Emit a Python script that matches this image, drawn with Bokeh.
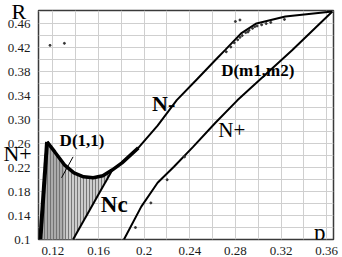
from bokeh.plotting import figure
from bokeh.models import Range1d, FixedTicker, Label
from bokeh.embed import file_html
from bokeh.resources import INLINE

# ---- data ----
x_ticks = [0.12, 0.16, 0.20, 0.24, 0.28, 0.32, 0.36]
x_tick_labels = ["0.12", "0.16", "0.2", "0.24", "0.28", "0.32", "0.36"]
y_ticks = [0.10, 0.14, 0.18, 0.22, 0.26, 0.30, 0.34, 0.38, 0.42, 0.46]
y_tick_labels = ["0.1", "0.14", "0.18", "0.22", "0.26", "0.30", "0.34", "0.38", "0.42", "0.46"]
grid_x = [0.10, 0.12, 0.14, 0.16, 0.18, 0.20, 0.22, 0.24, 0.26, 0.28, 0.30, 0.32, 0.34, 0.36]
grid_y = [0.10, 0.12, 0.14, 0.16, 0.18, 0.20, 0.22, 0.24, 0.26, 0.28, 0.30, 0.32, 0.34,
          0.36, 0.38, 0.40, 0.42, 0.44, 0.46, 0.48]

# left steep branch of N-
left_p = [0.109, 0.1149]
left_R = [0.100, 0.2627]

# N- boundary (upper curve)
nminus_p = [0.1149, 0.1217, 0.1301, 0.1385, 0.1469, 0.1554, 0.1638, 0.1722, 0.1806,
            0.1949, 0.2118, 0.2286, 0.2455, 0.2648, 0.2707, 0.2850, 0.2985, 0.3238, 0.3650]
nminus_R = [0.2627, 0.2460, 0.2245, 0.2112, 0.2046, 0.2029, 0.2062, 0.2162, 0.2278,
            0.2527, 0.2900, 0.3324, 0.3656, 0.4038, 0.4154, 0.4436, 0.4602, 0.4718, 0.4801]

# Nc line
nc_p = [0.1377, 0.1722]
nc_R = [0.100, 0.2162]

# N+ curve
nplus_p = [0.1823, 0.1975, 0.2118, 0.2261, 0.2429, 0.2623, 0.2817, 0.3297, 0.3650]
nplus_R = [0.100, 0.1548, 0.1946, 0.2212, 0.2544, 0.2942, 0.3320, 0.4154, 0.4801]

# scattered simulation dots
dots_p = [0.272, 0.276, 0.279, 0.282, 0.284, 0.286, 0.289, 0.291, 0.292, 0.295, 0.297,
          0.299, 0.303, 0.307, 0.311, 0.280, 0.284, 0.323, 0.1175, 0.1301,
          0.1924, 0.2059, 0.2202, 0.2354]
dots_R = [0.413, 0.421, 0.428, 0.433, 0.437, 0.440, 0.445, 0.446, 0.449, 0.452, 0.455,
          0.456, 0.458, 0.460, 0.462, 0.4635, 0.466, 0.467, 0.4237, 0.427,
          0.120, 0.161, 0.1996, 0.2378]

# leader line for the D(1,1) label
leader_p = [0.1377, 0.1276]
leader_R = [0.2378, 0.2029]

# ---- figure ----
p = figure(width=342, height=257,
           x_range=Range1d(0.1074, 0.366), y_range=Range1d(0.1, 0.4818),
           output_backend="svg", toolbar_location=None,
           min_border_left=26, min_border_right=9, min_border_top=10, min_border_bottom=17)
p.background_fill_color = "white"
p.border_fill_color = "white"
p.outline_line_color = "#3a3a3a"
p.outline_line_width = 1.5

p.xaxis.ticker = FixedTicker(ticks=x_ticks)
p.xaxis.major_label_overrides = dict(zip(x_ticks, x_tick_labels))
p.yaxis.ticker = FixedTicker(ticks=y_ticks)
p.yaxis.major_label_overrides = dict(zip(y_ticks, y_tick_labels))
for ax in (p.xaxis, p.yaxis):
    ax.axis_line_color = None
    ax.major_tick_line_color = None
    ax.minor_tick_line_color = None
    ax.major_label_text_font = "Liberation Serif"
    ax.major_label_text_font_size = "13px"
    ax.major_label_text_color = "#1a1a1a"
    ax.major_label_standoff = 2
p.xaxis.major_label_standoff = 1

# "R" (axis name, top) and "N+" (left boundary) written beside the R axis
p.yaxis.axis_label = "R \n\n\n\n\nN+\n\n\n"
p.yaxis.axis_label_orientation = "horizontal"
p.yaxis.axis_label_standoff = -27
p.yaxis.axis_label_text_font = "Liberation Serif"
p.yaxis.axis_label_text_font_size = "22px"
p.yaxis.axis_label_text_font_style = "normal"
p.yaxis.axis_label_text_color = "black"
p.yaxis.axis_label_text_line_height = 1.14

p.xgrid.ticker = FixedTicker(ticks=grid_x)
p.ygrid.ticker = FixedTicker(ticks=grid_y)
p.xgrid.grid_line_color = "#cfcfcf"
p.ygrid.grid_line_color = "#cfcfcf"

# shaded D(1,1) region
k = nminus_p.index(nc_p[1])
region_p = left_p + nminus_p[1:k + 1] + [nc_p[0]]
region_R = left_R + nminus_R[1:k + 1] + [nc_R[0]]
p.patch(region_p, region_R, fill_color="#cccccc", line_color=None,
        hatch_pattern="|", hatch_color="#777777", hatch_scale=3, hatch_weight=1)
dark_p = left_p + nminus_p[1:3] + [nminus_p[2]]
dark_R = left_R + nminus_R[1:3] + [left_R[0]]
p.patch(dark_p, dark_R, fill_color="#6e6e6e", fill_alpha=0.35, line_color=None)

# curves
p.line(left_p, left_R, line_width=4, color="black")
p.line(nminus_p[:10], nminus_R[:10], line_width=3.5, color="black")
p.line(nminus_p, nminus_R, line_width=2, color="black")
p.line(nc_p, nc_R, line_width=2, color="black")
p.line(nplus_p, nplus_R, line_width=2, color="black")
p.scatter(dots_p, dots_R, size=2, color="#333333", marker="circle")
p.line(leader_p, leader_R, line_width=1, color="black")

serif = "Liberation Serif"

def lab(x, y, text, size, bold=False):
    p.add_layout(Label(x=x, y=y, text=text,
                       text_font=serif, text_font_size=size,
                       text_font_style="bold" if bold else "normal",
                       text_color="black", text_baseline="alphabetic"))

lab(0.349, 0.111, "p", "23px")
lab(0.1259, 0.2645, "D(1,1)", "17px", bold=True)
lab(0.1620, 0.1585, "Nc", "23px", bold=True)
lab(0.2070, 0.327, "N-", "22px", bold=True)
lab(0.2650, 0.282, "N+", "21px")
lab(0.2675, 0.382, "D(m1,m2)", "17px", bold=True)

open("out.html", "w").write(file_html(p, INLINE))
